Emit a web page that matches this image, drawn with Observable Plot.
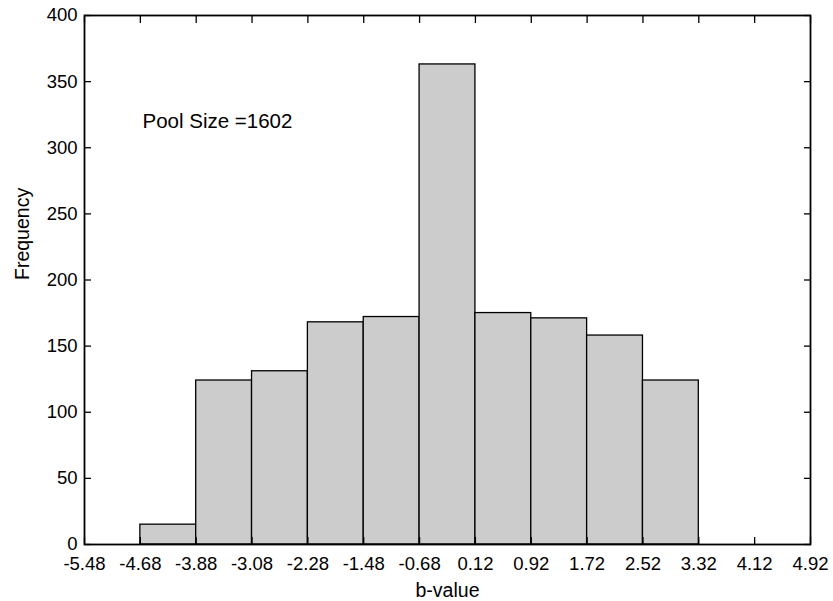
<!DOCTYPE html>
<html>
<head>
<meta charset="utf-8">
<script src="https://cdn.jsdelivr.net/npm/d3@7"></script>
<script src="https://cdn.jsdelivr.net/npm/@observablehq/plot@0.6"></script>
<style>
  html, body { margin: 0; padding: 0; background: #fff; }
</style>
</head>
<body>
<div id="chart"></div>
<script>
// Histogram bin edges (b-value) and counts per bin
const binEdges = [-4.68, -3.88, -3.08, -2.28, -1.48, -0.68, 0.12, 0.92, 1.72, 2.52, 3.32];
const counts = [15, 124, 131, 168, 172, 363, 175, 171, 158, 124];

// Axis ticks
const xTicks = [-5.48, -4.68, -3.88, -3.08, -2.28, -1.48, -0.68, 0.12, 0.92, 1.72, 2.52, 3.32, 4.12, 4.92];
const yTicks = [0, 50, 100, 150, 200, 250, 300, 350, 400];

// Texts
const xLabel = "b-value";
const yLabel = "Frequency";
const annotation = "Pool Size =1602";

const bins = counts.map((c, i) => ({x1: binEdges[i], x2: binEdges[i + 1], y: c}));

const FONT = 'Arial, "Liberation Sans", Helvetica, sans-serif';

const chart = Plot.plot({
  width: 833,
  height: 601,
  marginLeft: 84,
  marginRight: 23,
  marginTop: 15,
  marginBottom: 57,
  style: {fontFamily: FONT, fontSize: "18.5px", color: "black", background: "white", overflow: "visible"},
  x: {domain: [xTicks[0], xTicks[xTicks.length - 1]]},
  y: {domain: [yTicks[0], yTicks[yTicks.length - 1]]},
  marks: [
    Plot.rect(bins, {x1: "x1", x2: "x2", y1: 0, y2: "y", fill: "#cccccc", stroke: "black", strokeWidth: 1.3}),
    // inward ticks on all four sides
    Plot.axisX({ticks: xTicks, anchor: "bottom", tickSize: 7, dy: -7, tickFormat: () => "", label: null, strokeWidth: 1.3}),
    Plot.axisX({ticks: xTicks, anchor: "top", tickSize: 7, dy: 7, tickFormat: () => "", label: null, strokeWidth: 1.3}),
    Plot.axisY({ticks: yTicks, anchor: "left", tickSize: 7, dx: 7, tickFormat: () => "", label: null, strokeWidth: 1.3}),
    Plot.axisY({ticks: yTicks, anchor: "right", tickSize: 7, dx: -7, tickFormat: () => "", label: null, strokeWidth: 1.3}),
    // tick labels
    Plot.axisX({ticks: xTicks, anchor: "bottom", tickSize: 0, tickPadding: 12, tickFormat: d => d.toFixed(2), label: null, fontSize: 18.5}),
    Plot.axisY({ticks: yTicks, anchor: "left", tickSize: 0, tickPadding: 7, tickFormat: d => String(d), label: null, fontSize: 18.5}),
    Plot.frame({stroke: "black", strokeWidth: 1.8}),
    // axis titles
    Plot.text([xLabel], {text: d => d, frameAnchor: "bottom", dy: 46, fontSize: 19.5, lineAnchor: "middle"}),
    Plot.text([yLabel], {text: d => d, frameAnchor: "left", dx: -62, rotate: -90, fontSize: 19.5, lineAnchor: "middle"}),
    // annotation
    Plot.text([annotation], {text: d => d, frameAnchor: "top-left", dx: 58, dy: 106, textAnchor: "start", lineAnchor: "middle", fontSize: 20.5})
  ]
});

document.getElementById("chart").appendChild(chart);
</script>
</body>
</html>
